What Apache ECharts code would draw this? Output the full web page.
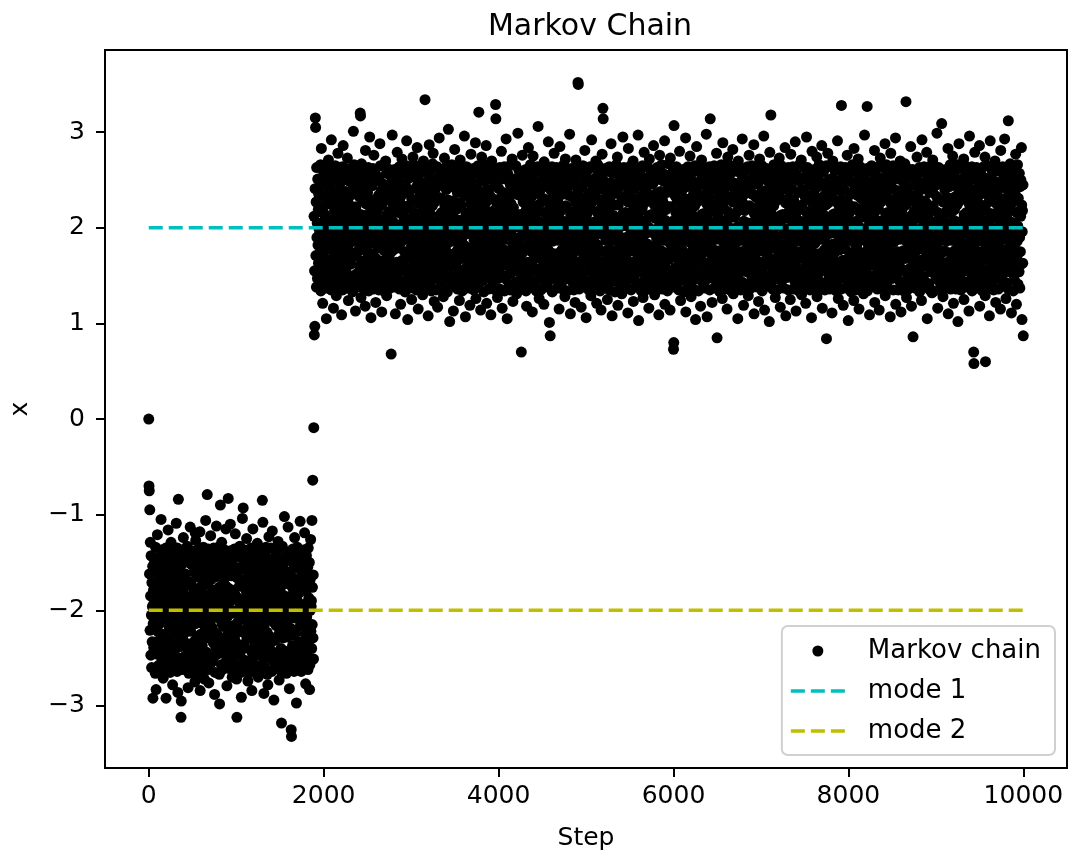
<!DOCTYPE html>
<html lang="en">
<head>
    <meta charset="utf-8">
    <title>Markov Chain</title>
    <script src="https://cdn.jsdelivr.net/npm/echarts@6/dist/echarts.min.js"></script>
    <style>
        html, body { margin: 0; padding: 0; background: #fff; }
        #main { width: 1080px; height: 858px; }
    </style>
</head>
<body>
<div id="main"></div>
<script type="text/javascript">
    // chain is sampled every 3 steps
    var stride = 3;

    // steps 0 .. 1887, stuck near the -2 mode
    var lowStart = 0;
    var lowChain = [
        0.00, -0.70, -0.75, -1.62, -0.95, -2.21, -1.29, -1.85, -2.47, -1.43, -2.05, -2.60, -1.71, -2.33, -1.96, -1.54, -2.92, -2.14, -1.79, -2.39,
        -1.93, -2.42, -1.50, -2.17, -1.74, -2.66, -1.34, -2.02, -2.83, -2.33, -1.61, -2.46, -1.86, -1.21, -1.45, -2.22, -1.69, -2.58, -2.07, -1.97,
        -1.58, -2.14, -2.57, -1.43, -1.99, -1.77, -2.31, -1.05, -1.37, -2.49, -1.91, -1.53, -2.25, -2.65, -1.66, -2.71, -2.09, -2.38, -1.82, -2.03,
        -2.26, -1.67, -2.47, -1.54, -1.94, -1.35, -2.92, -2.40, -2.06, -1.78, -2.63, -1.46, -1.85, -2.30, -1.16, -1.62, -2.01, -2.55, -2.18, -1.73,
        -1.83, -2.65, -2.01, -1.42, -2.33, -1.29, -1.70, -2.15, -1.53, -2.57, -1.90, -2.78, -1.35, -2.40, -1.75, -2.09, -2.49, -1.61, -2.23, -1.98,
        -2.47, -1.45, -2.07, -1.78, -2.39, -1.09, -1.93, -1.60, -2.64, -1.35, -2.18, -2.86, -1.86, -0.84, -2.31, -1.51, -2.56, -1.69, -2.02, -2.26,
        -1.91, -2.38, -1.54, -3.12, -2.95, -2.14, -1.77, -2.62, -1.37, -2.00, -2.30, -1.63, -1.24, -2.49, -1.83, -1.43, -2.24, -1.67, -2.56, -2.08,
        -1.62, -2.17, -2.59, -1.44, -2.01, -1.74, -2.35, -1.33, -2.46, -1.92, -2.81, -1.50, -2.21, -2.66, -1.70, -2.10, -2.42, -1.86, -1.13, -1.97,
        -2.22, -1.71, -2.50, -1.52, -1.89, -1.38, -2.43, -2.05, -1.76, -2.61, -1.45, -1.84, -2.33, -1.60, -1.98, -2.54, -2.75, -1.19, -2.14, -1.27,
        -1.86, -2.67, -2.03, -1.46, -2.29, -1.65, -2.13, -1.55, -2.59, -1.94, -1.36, -2.41, -1.79, -2.06, -2.47, -1.18, -2.84, -1.62, -2.25, -1.99,
        -2.51, -1.41, -2.10, -1.74, -2.37, -1.90, -1.58, -2.63, -1.34, -2.15, -1.83, -2.30, -2.72, -1.50, -2.57, -1.67, -2.00, -1.06, -2.22, -1.96,
        -1.95, -2.44, -1.49, -0.79, -2.19, -1.73, -2.62, -1.36, -2.03, -2.76, -2.29, -1.59, -2.50, -1.87, -1.45, -2.27, -1.22, -1.68, -2.55, -2.09,
        -1.57, -2.18, -2.53, -1.40, -2.04, -1.79, -2.34, -1.35, -2.49, -1.93, -1.53, -2.88, -2.23, -2.65, -1.65, -2.07, -2.39, -1.84, -1.12, -1.99,
        -2.25, -1.63, -2.46, -1.50, -1.91, -1.34, -2.41, -2.08, -1.76, -2.67, -2.98, -1.44, -1.83, -0.90, -2.31, -1.58, -2.01, -2.57, -1.29, -2.14,
        -1.82, -2.62, -1.97, -1.41, -2.35, -1.69, -2.17, -1.51, -2.56, -1.90, -1.37, -2.44, -1.74, -2.10, -1.15, -2.48, -1.61, -2.27, -2.79, -2.03,
        -2.46, -1.48, -2.06, -0.83, -1.77, -2.42, -1.91, -1.57, -2.61, -1.38, -2.19, -1.10, -1.86, -2.33, -1.52, -2.54, -1.64, -2.00, -2.70, -2.24,
        -1.89, -2.39, -1.53, -2.16, -1.79, -2.64, -1.36, -2.01, -2.31, -1.61, -1.20, -2.47, -1.85, -1.43, -2.24, -2.72, -3.12, -1.66, -2.57, -2.05,
        -1.60, -2.12, -2.58, -1.44, -2.00, -1.75, -2.36, -1.33, -2.45, -1.94, -1.55, -2.21, -2.65, -2.91, -1.68, -2.09, -2.40, -1.04, -1.88, -2.03,
        -0.93, -2.23, -1.69, -2.52, -1.49, -1.92, -1.37, -2.39, -2.07, -1.78, -2.63, -1.46, -1.80, -1.25, -2.30, -1.59, -2.02, -2.55, -2.74, -2.17,
        -1.84, -2.66, -2.04, -1.42, -2.28, -1.66, -2.15, -1.54, -2.60, -1.93, -1.35, -2.43, -1.76, -2.84, -2.11, -2.50, -1.63, -1.15, -2.26, -1.97,
        -2.49, -1.44, -2.09, -1.71, -2.35, -1.88, -1.56, -2.64, -1.39, -2.16, -1.82, -2.32, -1.51, -2.58, -1.30, -1.65, -2.02, -2.70, -2.21, -1.99,
        -1.92, -2.41, -1.52, -2.18, -1.75, -2.63, -1.38, -2.03, -2.30, -1.62, -2.48, -1.87, -1.45, -0.85, -2.25, -1.08, -1.67, -2.56, -2.10, -2.87,
        -1.59, -2.15, -2.60, -1.41, -1.98, -1.78, -2.34, -1.34, -2.47, -1.90, -1.53, -2.23, -2.67, -1.69, -2.78, -2.06, -2.38, -1.85, -1.23, -2.01,
        -2.27, -1.66, -2.49, -1.51, -1.95, -1.35, -2.42, -2.05, -1.74, -2.64, -1.47, -1.17, -1.83, -2.32, -1.60, -2.00, -2.54, -2.94, -2.13, -1.72,
        -1.85, -2.61, -2.02, -1.43, -2.31, -1.68, -2.16, -1.55, -2.57, -1.91, -1.37, -2.45, -1.77, -1.28, -2.08, -2.49, -1.64, -2.73, -2.24, -1.96,
        -2.50, -1.46, -2.11, -1.76, -2.40, -1.90, -3.18, -1.58, -2.65, -1.33, -2.18, -1.84, -2.29, -1.52, -2.55, -1.66, -2.01, -1.02, -2.20, -1.94,
        -1.97, -2.43, -1.48, -2.14, -1.72, -2.66, -1.39, -2.04, -2.28, -1.60, -2.51, -1.13, -1.86, -1.44, -2.23, -1.69, -2.82, -2.59, -2.09, -1.99,
        -1.61, -2.19, -2.55, -3.25, -3.32, -1.42, -2.03, -1.76, -2.37, -1.36, -2.46, -1.93, -1.52, -2.26, -2.64, -1.67, -1.24, -2.08, -2.41, -1.81,
        -2.24, -1.70, -2.47, -2.97, -1.54, -1.89, -1.34, -2.43, -2.06, -1.79, -2.62, -1.45, -1.82, -2.34, -1.57, -2.02, -2.53, -1.07, -2.16, -1.74,
        -1.80, -2.64, -1.99, -1.40, -2.33, -1.65, -2.12, -1.50, -2.58, -1.94, -1.37, -2.42, -1.75, -2.10, -1.19, -2.50, -1.62, -2.25, -2.77, -2.05,
        -2.45, -1.43, -2.07, -1.78, -2.38, -1.92, -1.55, -2.62, -1.35, -2.17, -1.87, -2.32, -1.50, -2.83, -2.57, -1.68, -2.00, -1.26, -2.22, -1.96,
        -1.90, -2.40, -1.06, -2.15, -1.76, -0.64, -2.29, -1.63, -2.51, -0.09
    ];

    // steps 1890 .. 9999, after the jump to the +2 mode
    var highStart = 1890;
    var highChain = [
        2.12, 0.88, 1.55, 0.97, 2.41, 3.15, 3.05, 1.71, 2.27, 1.38, 2.63, 1.90, 2.05, 1.47, 2.51, 1.82, 2.19, 1.63, 2.35, 1.99,
        1.93, 2.42, 1.50, 2.17, 1.74, 2.66, 1.34, 2.02, 2.83, 2.33, 1.61, 2.46, 1.86, 1.21, 1.45, 2.22, 1.69, 2.58, 2.07, 1.97,
        1.58, 2.14, 2.57, 1.43, 1.99, 1.77, 2.31, 1.05, 1.37, 2.49, 1.91, 1.53, 2.25, 2.65, 1.66, 2.71, 2.09, 2.38, 1.82, 2.03,
        2.26, 1.67, 2.47, 1.54, 1.94, 1.35, 2.92, 2.40, 2.06, 1.78, 2.63, 1.46, 1.85, 2.30, 1.16, 1.62, 2.01, 2.55, 2.18, 1.73,
        1.83, 2.65, 2.01, 1.42, 2.33, 1.29, 1.70, 2.15, 1.53, 2.57, 1.90, 2.78, 1.35, 2.40, 1.75, 2.09, 2.49, 1.61, 2.23, 1.98,
        2.47, 1.45, 2.07, 1.78, 2.39, 1.09, 1.93, 1.60, 2.64, 1.35, 2.18, 2.86, 1.86, 2.31, 1.51, 2.56, 1.69, 2.02, 2.26, 1.88,
        1.91, 2.38, 1.54, 2.14, 1.77, 2.62, 1.37, 2.73, 2.00, 2.30, 1.63, 1.24, 2.49, 1.83, 1.43, 2.24, 1.67, 2.56, 2.08, 2.11,
        1.62, 2.17, 2.59, 1.44, 2.01, 1.74, 2.35, 1.33, 2.46, 1.92, 3.01, 1.50, 2.21, 2.66, 1.70, 2.10, 2.42, 1.86, 1.13, 1.97,
        2.22, 1.71, 2.50, 1.52, 1.89, 1.38, 2.43, 2.05, 1.76, 2.61, 1.45, 1.84, 2.33, 1.60, 1.98, 2.54, 3.20, 3.17, 2.14, 1.27,
        1.86, 2.67, 2.03, 1.46, 2.29, 1.65, 2.13, 1.55, 2.59, 1.94, 1.36, 2.41, 1.79, 2.06, 2.47, 1.18, 2.81, 1.62, 2.25, 1.99,
        2.51, 1.41, 2.10, 1.74, 2.37, 1.90, 1.58, 2.63, 1.34, 2.15, 1.83, 2.30, 2.95, 1.50, 2.57, 1.67, 2.00, 1.06, 2.22, 1.96,
        1.95, 2.44, 1.49, 2.19, 1.73, 2.62, 1.36, 2.03, 2.76, 2.29, 1.59, 2.50, 1.87, 1.45, 2.27, 1.22, 1.68, 2.55, 2.09, 2.12,
        1.57, 2.18, 2.53, 1.40, 2.04, 1.79, 2.34, 1.35, 2.49, 1.93, 1.53, 2.88, 2.23, 2.65, 1.65, 2.07, 2.39, 1.84, 1.12, 1.99,
        2.25, 1.63, 2.46, 1.50, 1.91, 1.34, 2.41, 2.08, 1.76, 2.67, 1.44, 1.83, 2.31, 2.70, 1.58, 2.01, 2.57, 1.29, 2.14, 1.70,
        1.82, 2.62, 1.97, 1.41, 2.35, 1.69, 2.17, 1.51, 2.56, 1.90, 1.37, 2.44, 1.74, 2.10, 0.68, 2.48, 1.61, 2.27, 2.97, 2.03,
        2.46, 1.48, 2.06, 1.77, 2.42, 1.91, 1.57, 2.61, 1.38, 2.19, 1.10, 1.86, 2.33, 1.52, 2.54, 1.64, 2.00, 2.79, 2.24, 1.95,
        1.89, 2.39, 1.53, 2.16, 1.79, 2.64, 1.36, 2.01, 2.31, 1.61, 1.20, 2.47, 1.85, 1.43, 2.24, 2.72, 1.66, 2.57, 2.05, 1.98,
        1.60, 2.12, 2.58, 1.44, 2.00, 1.75, 2.36, 1.33, 2.45, 1.94, 1.55, 2.21, 2.65, 2.91, 1.68, 2.09, 2.40, 1.04, 1.88, 2.03,
        2.23, 1.69, 2.52, 1.49, 1.92, 1.37, 2.39, 2.07, 1.78, 2.63, 1.46, 1.80, 1.25, 2.30, 1.59, 2.02, 2.55, 2.74, 2.17, 1.73,
        1.84, 2.66, 2.04, 1.42, 2.28, 1.66, 2.15, 1.54, 2.60, 1.93, 1.35, 2.43, 1.76, 2.84, 2.11, 2.50, 1.63, 1.15, 2.26, 1.97,
        2.49, 1.44, 2.09, 1.71, 2.35, 1.88, 1.56, 2.64, 1.39, 2.16, 1.82, 2.32, 1.51, 2.58, 1.30, 1.65, 2.02, 2.70, 2.21, 1.99,
        1.92, 2.41, 1.52, 3.34, 2.18, 1.75, 2.63, 1.38, 2.03, 2.30, 1.62, 2.48, 1.87, 1.45, 2.25, 1.08, 1.67, 2.56, 2.10, 2.87,
        1.59, 2.15, 2.60, 1.41, 1.98, 1.78, 2.34, 1.34, 2.47, 1.90, 1.53, 2.23, 2.67, 1.69, 2.78, 2.06, 2.38, 1.85, 1.23, 2.01,
        2.27, 1.66, 2.49, 1.51, 1.95, 1.35, 2.42, 2.05, 1.74, 2.64, 1.47, 1.17, 1.83, 2.32, 1.60, 2.00, 2.54, 2.94, 2.13, 1.72,
        1.85, 2.61, 2.02, 1.43, 2.31, 1.68, 2.16, 1.55, 2.57, 1.91, 1.37, 2.45, 1.77, 1.28, 2.08, 2.49, 1.64, 2.73, 2.24, 1.96,
        2.50, 1.46, 2.11, 1.76, 2.40, 1.90, 1.58, 2.65, 1.33, 2.18, 1.84, 2.29, 3.03, 1.52, 2.55, 1.66, 2.01, 1.02, 2.20, 1.94,
        1.97, 2.43, 1.48, 2.14, 1.72, 2.66, 1.39, 2.04, 2.28, 1.60, 2.51, 1.13, 1.86, 1.44, 2.23, 1.69, 2.82, 2.59, 2.09, 1.99,
        1.61, 2.19, 2.55, 1.42, 2.03, 1.76, 2.37, 1.36, 2.46, 1.93, 1.52, 2.26, 2.64, 1.67, 1.24, 2.08, 2.41, 2.71, 1.81, 2.00,
        2.24, 1.70, 2.47, 1.54, 1.89, 1.34, 2.43, 2.06, 1.79, 2.62, 1.45, 1.82, 2.34, 2.96, 1.57, 2.02, 2.53, 1.07, 2.16, 1.74,
        1.80, 2.64, 1.99, 1.40, 2.33, 1.65, 2.12, 1.50, 2.58, 1.94, 1.37, 2.42, 1.75, 2.10, 1.19, 2.50, 1.62, 2.25, 2.77, 2.05,
        2.45, 1.43, 2.07, 1.78, 2.38, 1.92, 1.55, 2.62, 1.35, 2.17, 1.87, 2.32, 1.50, 2.57, 1.68, 2.89, 2.00, 1.26, 2.22, 1.96,
        1.90, 2.40, 1.51, 2.15, 1.76, 2.65, 1.38, 2.01, 3.21, 2.29, 1.63, 2.48, 1.84, 1.44, 2.26, 1.14, 1.70, 2.54, 2.07, 2.74,
        1.56, 2.13, 2.59, 1.45, 2.02, 1.80, 2.35, 1.33, 2.49, 1.91, 1.54, 2.20, 2.66, 1.66, 2.05, 2.39, 2.86, 1.86, 1.21, 1.98,
        2.28, 1.64, 2.51, 1.49, 1.93, 1.36, 2.40, 2.09, 1.73, 2.61, 1.47, 1.83, 2.33, 1.59, 1.09, 2.04, 2.56, 2.70, 2.15, 1.71,
        1.87, 2.63, 2.00, 1.44, 2.30, 1.67, 2.18, 1.53, 2.56, 1.92, 1.35, 2.46, 3.29, 3.14, 1.78, 2.11, 2.48, 1.61, 2.23, 1.27,
        2.48, 1.47, 2.08, 1.73, 2.41, 1.89, 1.57, 2.63, 1.36, 2.14, 1.85, 2.31, 1.51, 2.58, 2.80, 1.65, 2.03, 1.16, 2.21, 1.97,
        1.94, 2.37, 1.50, 2.18, 1.77, 2.64, 1.34, 2.02, 2.28, 1.62, 2.51, 1.88, 2.93, 1.46, 2.22, 1.68, 1.05, 2.58, 2.10, 1.99,
        1.60, 2.16, 2.54, 1.40, 2.00, 1.75, 2.33, 1.35, 2.45, 1.95, 1.52, 2.25, 2.67, 1.69, 2.07, 2.72, 2.42, 1.83, 1.23, 2.04,
        2.21, 1.67, 2.49, 1.55, 1.90, 1.38, 2.44, 2.06, 1.78, 2.65, 1.43, 1.81, 1.31, 2.35, 1.58, 2.01, 2.52, 2.99, 2.13, 1.74,
        1.83, 2.60, 2.03, 1.42, 2.34, 1.66, 2.14, 1.52, 2.57, 1.91, 0.70, 2.43, 1.73, 2.09, 2.76, 2.47, 1.63, 2.27, 1.37, 1.97,
        2.52, 1.45, 2.10, 1.77, 2.36, 1.93, 1.56, 2.61, 1.34, 2.19, 1.18, 1.82, 2.30, 1.49, 2.55, 1.64, 2.02, 2.84, 2.24, 1.95,
        1.91, 2.43, 1.53, 2.17, 1.76, 2.66, 1.39, 2.04, 2.32, 1.60, 2.49, 1.86, 1.12, 1.44, 2.23, 2.75, 1.67, 2.56, 2.08, 1.98,
        1.58, 2.14, 2.58, 1.43, 2.01, 1.79, 2.36, 1.34, 2.47, 1.92, 1.54, 2.22, 2.64, 1.70, 3.06, 2.07, 2.39, 1.85, 1.26, 2.00,
        2.25, 1.68, 2.48, 1.51, 1.94, 1.35, 2.41, 2.05, 1.75, 2.62, 1.46, 1.84, 2.31, 1.60, 2.03, 2.55, 1.20, 2.69, 2.16, 1.72,
        1.84, 2.65, 2.02, 1.41, 2.29, 1.64, 2.15, 1.55, 2.59, 1.90, 1.38, 2.44, 1.77, 2.90, 2.12, 2.50, 1.62, 1.01, 2.24, 1.96,
        0.87, 1.46, 2.08, 1.74, 2.39, 1.91, 1.59, 2.64, 1.33, 2.17, 1.86, 2.33, 1.50, 2.56, 1.66, 2.78, 2.01, 2.47, 2.21, 1.94,
        1.93, 2.40, 1.52, 2.15, 1.73, 2.63, 1.37, 2.03, 2.29, 1.61, 2.50, 1.87, 1.45, 2.25, 1.15, 1.69, 2.57, 2.85, 2.09, 1.97,
        1.59, 2.18, 2.56, 1.42, 1.99, 1.77, 2.35, 1.36, 2.46, 1.94, 1.51, 2.21, 2.66, 1.67, 2.06, 2.41, 1.28, 1.84, 2.72, 2.02,
        2.23, 1.65, 2.52, 1.48, 1.92, 1.34, 2.42, 2.07, 1.76, 2.61, 1.47, 1.82, 2.34, 1.57, 2.98, 2.00, 2.54, 1.10, 2.14, 1.71,
        1.86, 2.62, 1.98, 1.44, 2.32, 1.68, 2.17, 1.53, 2.58, 1.93, 1.35, 2.45, 1.75, 2.10, 2.48, 1.22, 1.63, 2.26, 2.71, 2.04,
        2.47, 1.43, 2.11, 1.78, 2.37, 1.89, 3.52, 3.50, 1.56, 2.63, 1.36, 2.16, 1.84, 2.30, 1.52, 2.57, 1.65, 2.01, 1.17, 2.22,
        1.95, 2.42, 1.49, 2.19, 1.74, 2.65, 1.38, 2.02, 2.31, 1.62, 2.49, 1.85, 2.81, 1.44, 2.24, 1.70, 2.55, 1.06, 2.08, 1.99,
        1.61, 2.15, 2.60, 1.41, 2.03, 1.78, 2.34, 1.35, 2.48, 1.91, 1.55, 2.23, 2.64, 1.68, 2.05, 1.29, 2.38, 1.83, 2.92, 2.00,
        2.27, 1.66, 2.50, 1.50, 1.90, 1.37, 2.44, 2.06, 1.77, 2.63, 1.45, 1.84, 2.33, 1.59, 2.70, 2.02, 2.53, 1.21, 2.17, 1.73,
        1.82, 2.66, 2.00, 1.43, 2.30, 1.65, 2.13, 1.54, 2.56, 1.94, 1.34, 2.41, 1.76, 2.11, 1.14, 2.46, 1.64, 2.25, 2.77, 1.98,
        2.51, 3.25, 3.14, 1.46, 2.09, 1.75, 2.40, 1.92, 1.58, 2.62, 1.37, 2.18, 1.87, 2.32, 1.51, 2.59, 1.67, 2.03, 1.25, 2.21,
        1.92, 2.39, 1.54, 2.16, 1.78, 2.64, 1.35, 2.04, 2.28, 1.60, 2.47, 1.86, 2.88, 1.45, 2.23, 1.69, 1.08, 2.57, 2.07, 1.96,
        1.57, 2.13, 2.57, 1.44, 2.01, 1.76, 2.36, 1.33, 2.45, 1.93, 1.53, 2.24, 2.66, 1.66, 2.08, 2.40, 2.74, 1.86, 1.19, 1.99,
        2.24, 1.69, 2.48, 1.52, 1.91, 1.36, 2.43, 2.05, 1.74, 2.61, 1.46, 1.81, 2.32, 1.31, 1.58, 2.02, 2.55, 2.95, 2.15, 1.72,
        1.85, 2.63, 2.03, 1.40, 2.33, 1.67, 2.16, 1.50, 2.60, 1.90, 1.38, 2.44, 1.73, 2.10, 2.49, 1.62, 1.11, 2.27, 2.83, 2.01,
        2.46, 1.47, 2.07, 1.77, 2.38, 1.93, 1.57, 2.65, 1.35, 2.15, 1.83, 2.29, 1.49, 2.56, 1.64, 2.00, 2.70, 1.23, 2.20, 1.95,
        1.90, 2.41, 1.51, 2.18, 1.75, 2.62, 1.39, 2.03, 2.30, 1.63, 2.50, 1.88, 1.43, 2.26, 1.68, 2.97, 2.58, 1.03, 2.09, 1.98,
        1.60, 2.17, 2.59, 1.42, 2.00, 1.79, 2.33, 1.34, 2.47, 1.92, 1.54, 2.21, 2.65, 1.69, 1.27, 2.06, 2.42, 1.85, 2.79, 2.02,
        2.26, 1.64, 2.51, 1.49, 1.94, 1.35, 2.40, 2.08, 1.78, 2.64, 1.44, 1.83, 2.35, 1.60, 2.01, 2.53, 1.16, 2.13, 2.72, 1.71,
        1.81, 2.61, 1.99, 1.45, 2.31, 1.66, 2.14, 1.52, 2.57, 1.95, 1.36, 2.46, 1.77, 2.12, 2.86, 2.48, 1.63, 2.24, 1.30, 1.97,
        2.50, 1.44, 2.10, 1.72, 2.36, 1.90, 1.55, 2.63, 1.37, 2.19, 1.85, 2.32, 1.51, 2.58, 1.09, 1.66, 2.02, 2.76, 2.23, 1.94,
        1.96, 2.38, 1.50, 2.15, 1.76, 2.66, 1.36, 2.05, 2.29, 1.61, 2.49, 1.87, 1.45, 2.25, 1.70, 2.56, 2.91, 1.20, 2.08, 2.00,
        1.58, 2.19, 2.55, 1.41, 2.02, 1.74, 2.37, 1.34, 2.46, 1.94, 1.52, 2.22, 2.67, 1.67, 2.04, 2.39, 1.84, 1.14, 2.73, 1.98,
        2.22, 1.70, 2.49, 1.53, 1.92, 1.38, 2.42, 2.07, 1.75, 2.62, 0.73, 0.80, 3.07, 1.47, 1.82, 2.34, 1.58, 2.03, 2.54, 2.16,
        1.87, 2.64, 2.01, 1.43, 2.28, 1.68, 2.17, 1.54, 2.60, 1.91, 1.35, 2.43, 1.74, 2.80, 2.10, 2.47, 1.61, 1.24, 2.26, 1.96,
        2.48, 1.45, 2.09, 1.77, 2.40, 1.89, 1.59, 2.61, 1.33, 2.17, 1.86, 2.31, 1.50, 2.57, 1.65, 2.00, 2.94, 1.12, 2.21, 1.97,
        1.93, 2.43, 1.52, 2.16, 1.73, 2.64, 1.38, 2.02, 2.30, 1.62, 2.51, 1.85, 1.44, 2.75, 2.24, 1.69, 2.57, 1.28, 2.10, 1.99,
        1.61, 2.14, 2.58, 1.45, 2.00, 1.78, 2.35, 1.36, 2.48, 1.90, 1.55, 2.23, 2.65, 1.68, 1.04, 2.07, 2.41, 1.84, 2.85, 2.03,
        2.27, 1.67, 2.47, 1.50, 1.93, 1.34, 2.44, 2.06, 1.77, 2.63, 1.46, 1.83, 2.32, 1.18, 1.57, 2.01, 2.56, 2.71, 2.14, 1.73,
        1.83, 2.62, 2.04, 1.42, 2.34, 1.64, 2.15, 1.53, 2.59, 1.92, 1.37, 2.45, 1.76, 2.11, 2.49, 2.98, 1.63, 2.25, 1.07, 1.98,
        2.49, 1.47, 2.08, 1.75, 2.38, 1.91, 1.56, 2.64, 1.35, 2.18, 3.14, 1.84, 2.30, 1.52, 2.55, 1.66, 2.02, 1.22, 2.20, 1.95,
        1.91, 2.40, 1.49, 2.17, 1.77, 2.65, 1.37, 2.04, 2.28, 1.60, 2.48, 1.88, 1.44, 2.23, 2.78, 1.70, 0.85, 2.58, 2.09, 1.97,
        1.59, 2.16, 2.56, 1.43, 2.03, 1.76, 2.34, 1.33, 2.46, 1.93, 1.53, 2.22, 2.66, 1.69, 2.06, 2.40, 1.26, 1.86, 2.89, 2.00,
        2.25, 1.65, 2.50, 1.51, 1.90, 1.36, 2.41, 2.08, 1.74, 2.61, 1.45, 1.81, 2.33, 1.59, 1.15, 2.03, 2.53, 2.74, 2.17, 1.72,
        1.86, 2.66, 2.00, 1.44, 2.31, 1.67, 2.13, 1.55, 2.57, 1.94, 1.34, 2.44, 1.78, 2.12, 2.47, 1.62, 2.82, 2.27, 1.31, 1.99,
        2.47, 1.46, 2.11, 1.73, 2.39, 1.92, 1.57, 2.62, 1.36, 2.16, 1.85, 2.33, 1.50, 2.59, 1.67, 1.05, 2.01, 2.70, 2.22, 1.96,
        1.94, 2.42, 1.53, 2.19, 1.75, 2.63, 1.35, 2.01, 2.31, 1.61, 2.50, 1.87, 2.93, 1.43, 2.26, 1.68, 2.56, 1.19, 2.07, 1.98,
        1.57, 2.18, 2.60, 1.40, 2.01, 1.77, 2.36, 1.35, 2.47, 1.91, 1.54, 2.20, 2.64, 1.66, 2.05, 1.29, 2.38, 1.85, 2.76, 2.02,
        2.23, 1.68, 2.49, 1.52, 1.95, 1.37, 2.43, 2.05, 1.78, 2.65, 1.47, 1.82, 2.35, 1.58, 2.00, 2.54, 2.87, 1.10, 2.15, 1.71,
        1.84, 2.61, 2.02, 1.42, 2.32, 1.65, 2.16, 1.51, 2.58, 1.90, 1.38, 2.46, 1.75, 2.10, 1.23, 2.48, 1.64, 2.24, 2.72, 1.97,
        2.51, 1.43, 2.07, 1.76, 2.37, 1.89, 1.55, 2.65, 1.34, 2.19, 1.83, 2.29, 1.52, 2.57, 2.96, 1.65, 2.03, 1.14, 2.21, 1.94,
        1.89, 2.39, 1.50, 2.14, 1.74, 2.62, 1.39, 2.03, 2.30, 1.63, 2.49, 1.86, 1.45, 2.24, 1.69, 1.02, 2.55, 2.79, 2.08, 1.99,
        1.60, 3.18, 2.15, 2.57, 1.44, 2.00, 1.79, 2.35, 1.36, 2.45, 1.92, 1.53, 2.23, 2.66, 1.67, 2.06, 2.41, 1.84, 1.27, 2.01,
        2.28, 1.66, 2.48, 1.49, 1.91, 1.35, 2.42, 2.07, 1.76, 2.62, 1.46, 1.83, 2.34, 2.73, 1.60, 2.02, 2.53, 1.17, 2.13, 1.73,
        1.82, 2.65, 2.01, 1.45, 2.30, 1.68, 2.14, 1.54, 2.56, 1.93, 1.37, 2.43, 1.74, 2.11, 2.50, 2.84, 1.62, 2.26, 1.08, 1.98,
        2.46, 1.48, 2.10, 1.78, 2.40, 1.90, 1.58, 2.63, 1.35, 2.17, 1.87, 2.31, 1.51, 2.58, 1.66, 1.25, 2.00, 2.77, 2.22, 1.96,
        1.92, 2.41, 1.51, 2.16, 1.76, 2.64, 1.36, 2.04, 2.29, 1.62, 2.51, 1.85, 1.44, 2.25, 2.90, 1.70, 2.57, 1.13, 2.09, 1.97,
        1.58, 2.17, 2.54, 1.43, 2.02, 1.75, 2.37, 1.34, 2.49, 1.94, 1.52, 2.21, 2.67, 1.68, 2.07, 2.39, 1.86, 2.71, 1.30, 2.00,
        2.24, 1.69, 2.51, 1.53, 1.92, 1.38, 2.40, 2.06, 1.77, 2.63, 1.45, 1.80, 2.32, 1.59, 1.21, 2.01, 2.55, 2.95, 2.16, 1.72,
        1.85, 2.63, 1.99, 1.41, 2.33, 1.66, 2.17, 1.52, 2.59, 1.91, 1.35, 2.45, 1.78, 2.12, 2.47, 1.63, 1.06, 2.27, 2.80, 2.03,
        2.49, 1.45, 2.08, 1.74, 2.36, 1.93, 1.57, 2.61, 1.37, 2.15, 1.84, 2.33, 1.49, 2.56, 1.64, 2.02, 2.74, 1.28, 2.20, 1.95,
        1.95, 2.43, 1.52, 2.18, 1.73, 2.66, 1.38, 2.02, 2.31, 1.60, 2.48, 1.88, 1.43, 2.23, 1.67, 2.86, 2.58, 1.16, 2.10, 1.99,
        1.61, 2.14, 2.59, 1.42, 2.00, 1.77, 2.34, 1.35, 2.46, 1.92, 1.55, 2.24, 2.65, 0.84, 1.69, 2.05, 2.40, 1.83, 2.78, 2.01,
        2.26, 1.64, 2.50, 1.50, 1.94, 1.36, 2.44, 2.08, 1.75, 2.64, 1.47, 1.82, 2.33, 1.58, 1.11, 2.00, 2.52, 2.70, 2.14, 1.71,
        1.83, 2.62, 2.03, 1.44, 2.29, 1.65, 2.15, 1.55, 2.60, 1.94, 1.34, 2.42, 1.76, 2.10, 2.49, 2.91, 1.61, 2.25, 1.26, 1.97,
        2.48, 1.46, 2.09, 1.77, 2.39, 1.91, 1.56, 2.64, 1.36, 2.18, 3.28, 1.86, 2.30, 1.51, 2.57, 1.66, 2.01, 1.19, 2.23, 1.94,
        1.90, 2.40, 1.53, 2.15, 1.78, 2.63, 1.37, 2.05, 2.28, 1.62, 2.50, 1.87, 2.76, 1.45, 2.26, 1.68, 1.03, 2.56, 2.08, 1.98,
        1.59, 2.16, 2.58, 1.41, 2.03, 1.74, 2.35, 1.33, 2.48, 1.90, 1.54, 2.22, 2.66, 1.67, 2.06, 2.38, 1.85, 1.24, 2.83, 2.00,
        2.22, 1.67, 2.47, 1.51, 1.93, 1.35, 2.41, 2.07, 1.79, 2.62, 1.44, 1.84, 2.34, 1.60, 2.72, 2.02, 2.54, 1.15, 2.17, 1.73,
        1.87, 2.64, 2.00, 1.43, 2.31, 1.68, 2.13, 1.52, 2.57, 1.92, 1.38, 2.44, 1.73, 2.12, 1.31, 2.46, 1.64, 2.24, 2.97, 1.96,
        2.50, 1.44, 2.11, 1.75, 2.37, 1.89, 1.58, 2.62, 3.27, 1.34, 2.16, 1.83, 2.32, 1.50, 2.59, 1.65, 2.03, 1.09, 2.21, 1.95,
        1.93, 2.42, 1.50, 2.17, 1.76, 2.65, 1.39, 2.01, 2.30, 1.61, 2.49, 1.86, 1.46, 2.25, 1.70, 2.57, 2.81, 1.22, 2.09, 1.99,
        1.60, 2.18, 2.55, 1.44, 2.01, 1.78, 2.36, 1.36, 2.45, 1.93, 1.53, 2.20, 2.64, 1.66, 1.14, 2.07, 2.42, 1.84, 2.73, 2.02,
        2.27, 1.65, 2.49, 1.52, 1.90, 1.37, 2.43, 2.05, 1.76, 2.63, 1.45, 1.81, 2.35, 1.59, 2.00, 2.53, 2.88, 1.29, 2.15, 1.72,
        1.84, 2.66, 2.02, 1.40, 2.32, 1.67, 2.16, 1.54, 2.58, 1.91, 1.36, 2.43, 1.77, 2.11, 2.48, 1.63, 1.07, 2.26, 2.78, 1.98,
        2.47, 1.47, 2.08, 1.73, 2.41, 1.92, 1.55, 2.65, 1.35, 2.19, 1.85, 2.30, 1.52, 2.56, 1.67, 2.01, 2.94, 1.20, 2.22, 1.96,
        1.91, 2.39, 1.52, 2.14, 1.75, 2.62, 1.35, 2.03, 2.32, 1.63, 2.51, 1.88, 1.44, 2.24, 2.70, 1.69, 2.55, 1.12, 2.07, 1.97,
        1.57, 2.15, 2.60, 1.42, 2.02, 1.76, 2.34, 1.34, 2.47, 1.94, 1.55, 2.23, 2.67, 1.68, 2.04, 2.40, 3.32, 1.86, 1.27, 2.00,
        2.25, 1.70, 2.52, 1.49, 1.93, 1.36, 2.42, 2.08, 1.74, 2.61, 1.46, 1.83, 2.31, 1.58, 2.85, 2.03, 2.54, 1.18, 2.13, 1.71,
        1.86, 2.61, 2.01, 0.86, 1.45, 2.33, 1.64, 2.17, 1.51, 2.59, 1.93, 1.37, 2.45, 1.75, 2.10, 2.48, 1.62, 2.25, 2.74, 1.97,
        2.49, 1.43, 2.10, 1.78, 2.38, 1.90, 1.57, 2.63, 1.33, 2.16, 1.84, 2.29, 1.50, 2.58, 1.66, 1.24, 2.00, 2.92, 2.21, 1.95,
        1.94, 2.41, 1.49, 2.18, 1.77, 2.64, 1.38, 2.04, 2.28, 1.60, 2.48, 1.85, 1.43, 2.26, 1.68, 2.79, 2.57, 1.05, 2.10, 1.99,
        1.62, 2.13, 2.57, 1.41, 2.00, 1.79, 2.37, 1.35, 2.46, 1.91, 1.54, 2.21, 2.65, 1.69, 2.06, 1.32, 2.39, 1.83, 2.71, 2.02,
        2.23, 1.66, 2.48, 1.53, 1.91, 1.34, 2.44, 2.06, 1.78, 2.64, 1.47, 1.82, 2.33, 1.59, 2.99, 2.01, 2.55, 1.16, 2.16, 1.73,
        1.85, 2.63, 1.98, 1.44, 2.30, 1.66, 2.14, 1.53, 2.56, 1.92, 1.36, 2.46, 3.09, 1.74, 2.12, 2.49, 1.63, 1.28, 2.27, 1.97,
        2.46, 1.46, 2.07, 1.76, 2.40, 1.93, 1.56, 2.61, 1.37, 2.17, 1.86, 2.32, 1.51, 2.57, 1.64, 2.02, 2.83, 1.10, 2.23, 1.94,
        1.92, 2.43, 1.51, 2.16, 1.74, 2.66, 1.36, 2.02, 2.31, 1.62, 2.50, 1.87, 1.45, 2.22, 2.75, 1.70, 2.58, 1.21, 2.08, 1.98,
        1.58, 2.19, 2.59, 1.43, 2.03, 1.77, 2.33, 1.36, 2.48, 1.90, 1.52, 2.24, 2.66, 1.67, 1.02, 2.05, 2.41, 1.85, 2.88, 2.01,
        2.28, 1.68, 2.50, 1.50, 1.94, 1.35, 2.40, 2.07, 1.75, 2.62, 1.44, 1.84, 2.34, 1.60, 2.00, 2.52, 2.72, 1.25, 2.14, 1.72,
        1.83, 2.65, 2.03, 1.42, 2.32, 1.65, 2.16, 1.55, 2.60, 1.94, 1.38, 2.44, 1.76, 2.10, 2.47, 1.61, 1.13, 2.25, 2.96, 1.96,
        2.51, 1.45, 2.09, 1.74, 2.39, 1.91, 1.58, 2.64, 1.34, 2.18, 1.83, 2.31, 1.49, 2.56, 0.70, 0.58, 1.66, 2.01, 2.79, 2.20,
        1.95, 2.40, 1.53, 2.17, 1.76, 2.63, 1.37, 2.05, 2.29, 1.61, 2.49, 1.86, 1.44, 2.25, 1.69, 2.56, 2.86, 1.18, 2.09, 1.99,
        1.60, 2.16, 2.56, 1.44, 2.01, 1.75, 2.36, 1.34, 2.47, 1.92, 1.53, 2.22, 2.64, 1.68, 2.07, 2.38, 1.84, 2.74, 1.29, 0.60,
        2.24, 1.67, 2.51, 1.51, 1.92, 1.38, 2.43, 2.08, 1.77, 2.65, 1.46, 1.81, 2.32, 1.57, 1.08, 2.02, 2.53, 2.91, 2.15, 1.73,
        1.84, 2.62, 2.00, 1.43, 2.34, 1.67, 2.13, 1.52, 2.58, 1.91, 1.35, 2.45, 1.78, 2.11, 2.48, 2.70, 1.64, 2.26, 1.22, 1.97,
        2.48, 1.47, 2.10, 1.72, 2.37, 1.89, 1.55, 2.63, 1.36, 2.19, 1.85, 2.30, 1.52, 2.59, 1.65, 2.03, 1.15, 2.81, 2.21, 1.95,
        1.90, 2.42, 1.50, 2.15, 1.77, 2.64, 1.39, 2.01, 2.30, 1.63, 2.51, 1.88, 2.93, 1.43, 2.23, 1.70, 2.57, 1.26, 2.07, 1.98,
        1.59, 2.14, 2.58, 1.42, 2.02, 1.78, 3.12, 2.35, 1.35, 2.46, 1.93, 1.54, 2.20, 2.67, 1.66, 2.06, 2.40, 1.86, 1.11, 2.00,
        2.26, 1.65, 2.49, 1.52, 1.95, 1.34, 2.41, 2.05, 1.74, 2.63, 1.45, 1.83, 2.35, 1.58, 2.77, 2.01, 2.54, 1.20, 2.16, 1.71,
        1.86, 2.66, 2.02, 1.41, 2.31, 1.64, 2.17, 1.54, 2.57, 1.90, 1.37, 2.43, 1.75, 2.12, 2.50, 1.62, 2.84, 2.24, 1.04, 1.96,
        2.18, 1.63, 2.45, 0.87
    ];

    // the two target modes, drawn as dashed guides
    var modeSteps = [0, 9999];
    var mode1 = [2, 2];
    var mode2 = [-2, -2];

    var xTicks = [0, 2000, 4000, 6000, 8000, 10000];
    var yTicks = [-3, -2, -1, 0, 1, 2, 3];

    var chainPoints = [];
    for (var i = 0; i < lowChain.length; i++) {
        chainPoints.push([lowStart + i * stride, lowChain[i]]);
    }
    for (var j = 0; j < highChain.length; j++) {
        chainPoints.push([highStart + j * stride, highChain[j]]);
    }

    function plain(v) {
        return String(v).replace('-', '\u2212');
    }

    // three dashes, like a matplotlib '--' legend handle
    var dashIcon = 'path://M0,0h14v3.5h-14z M20,0h14v3.5h-14z M40,0h14v3.5h-14z';

    var font = 'DejaVu Sans';
    var chart = echarts.init(document.getElementById('main'));
    var option = {
        animation: false,
        textStyle: {fontFamily: font},
        title: {
            text: 'Markov Chain',
            left: 585,
            top: 7,
            textAlign: 'center',
            textStyle: {fontFamily: font, fontSize: 30, fontWeight: 'normal', color: '#000'}
        },
        grid: {
            left: 104, right: 13, top: 50, bottom: 90,
            show: true, borderColor: '#000', borderWidth: 2
        },
        xAxis: {
            type: 'value',
            min: -500,
            max: 10499,
            name: 'Step',
            nameLocation: 'middle',
            nameGap: 58,
            nameTextStyle: {fontFamily: font, fontSize: 25, color: '#000'},
            axisLine: {show: false, onZero: false},
            splitLine: {show: false},
            axisTick: {show: true, customValues: xTicks, length: 9, lineStyle: {color: '#000', width: 2}},
            axisLabel: {customValues: xTicks, fontFamily: font, fontSize: 25, color: '#000', margin: 16, formatter: plain}
        },
        yAxis: {
            type: 'value',
            min: -3.65,
            max: 3.86,
            name: 'x',
            nameLocation: 'middle',
            nameGap: 72,
            nameTextStyle: {fontFamily: font, fontSize: 25, color: '#000'},
            axisLine: {show: false, onZero: false},
            splitLine: {show: false},
            axisTick: {show: true, customValues: yTicks, length: 9, lineStyle: {color: '#000', width: 2}},
            axisLabel: {customValues: yTicks, fontFamily: font, fontSize: 25, color: '#000', margin: 20, formatter: plain}
        },
        legend: {
            orient: 'vertical',
            right: 25,
            bottom: 103,
            selectedMode: false,
            data: [
                {name: 'Markov chain', icon: 'circle'},
                {name: 'mode 1', icon: dashIcon},
                {name: 'mode 2', icon: dashIcon}
            ],
            itemWidth: 54,
            itemHeight: 11,
            itemGap: 14,
            padding: [12, 14, 11, 9],
            backgroundColor: 'rgba(255,255,255,0.8)',
            borderColor: '#d0d0d0',
            borderWidth: 2,
            borderRadius: 6,
            textStyle: {fontFamily: font, fontSize: 26, color: '#000', padding: [0, 0, 0, 18]}
        },
        series: [
            {
                name: 'Markov chain',
                type: 'scatter',
                data: chainPoints,
                symbolSize: 11,
                itemStyle: {color: '#000', opacity: 1},
                z: 2,
                silent: true
            },
            {
                name: 'mode 1',
                type: 'line',
                data: modeSteps.map(function (s, k) { return [s, mode1[k]]; }),
                symbol: 'none',
                lineStyle: {color: '#00bfbf', width: 3.5, type: [14, 6]},
                itemStyle: {color: '#00bfbf'},
                z: 3
            },
            {
                name: 'mode 2',
                type: 'line',
                data: modeSteps.map(function (s, k) { return [s, mode2[k]]; }),
                symbol: 'none',
                lineStyle: {color: '#bfbf00', width: 3.5, type: [14, 6]},
                itemStyle: {color: '#bfbf00'},
                z: 3
            }
        ]
    };
    chart.setOption(option);
</script>
</body>
</html>
